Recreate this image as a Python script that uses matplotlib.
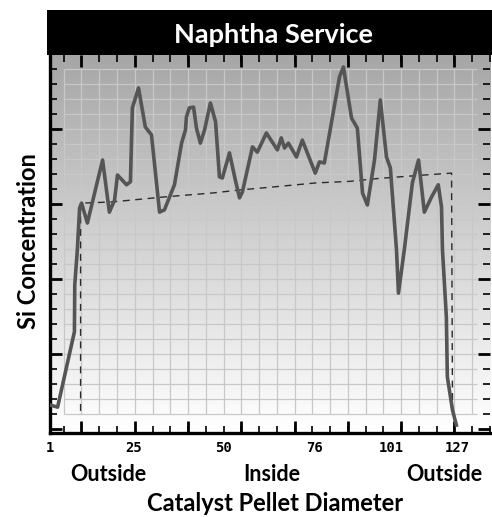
import numpy as np
import matplotlib
matplotlib.use("Agg")
import matplotlib.pyplot as plt
from matplotlib.patches import Rectangle
from matplotlib.transforms import blended_transform_factory

# ---- data ----
solid_x = [1, 3.5, 8.7, 8.8, 9.6, 10.3, 10.9, 12.7, 17.4, 19.5, 21.1, 22.0, 24.8, 26.0,
           26.6, 28.5, 30.6, 32.5, 35.0, 36.5, 39.6, 41.8, 43.0, 43.3, 44.2, 45.5, 46.4,
           47.6, 48.9, 50.7, 52.3, 53.5, 54.4, 56.6, 58.4, 59.7, 60.6, 63.7, 65.2, 68.0,
           71.4, 72.6, 73.6, 74.8, 77.3, 79.1, 83.1, 84.4, 85.9, 90.6, 91.8, 94.3, 96.1,
           97.7, 99.2, 101.4, 103.2, 105.1, 106.3, 108.2, 108.8, 110.6, 113.1, 115.0,
           116.8, 119.0, 121.1, 122.1, 122.4, 123.6, 123.9, 125.5, 126.7]
solid_y = [6.5, 5.9, 26.0, 38.5, 47.8, 59.0, 60.3, 55.0, 71.8, 57.9, 61.1, 67.8, 65.2, 66.0,
           85.7, 91.0, 80.6, 78.5, 57.9, 58.5, 65.2, 76.3, 79.8, 83.3, 85.7, 85.9, 80.3,
           76.3, 79.8, 87.0, 82.0, 67.3, 67.0, 73.7, 66.5, 61.7, 63.3, 75.3, 73.9, 79.0,
           74.5, 77.7, 75.0, 76.3, 72.6, 77.1, 68.3, 71.3, 71.0, 94.0, 96.6, 83.0, 80.3,
           63.0, 59.8, 71.8, 87.8, 72.6, 69.7, 47.8, 36.3, 47.8, 65.7, 71.8,
           57.9, 61.9, 65.2, 59.3, 47.8, 29.9, 14.0, 5.1, 1.1]

dash_x = [10.6, 10.6, 20.1, 37.1, 51.3, 59.7, 69.9, 83.5, 93.7, 102.9, 115.3, 125.2, 125.5]
dash_y = [4.9, 60.3, 60.6, 62.0, 63.0, 63.8, 64.6, 65.7, 66.1, 66.9, 67.7, 68.3, 4.6]

tick_labels = ["1", "25", "50", "76", "101", "127"]
tick_label_pos = [1, 26.9, 54.7, 82.8, 106.6, 127]
region_labels = ["Outside", "Inside", "Outside"]
region_pos = [19.2, 69.6, 123.1]

title = "Naphtha Service"
xlabel = "Catalyst Pellet Diameter"
ylabel = "Si Concentration"

# ---- figure ----
W, H = 492, 517
fig = plt.figure(figsize=(W / 100, H / 100), dpi=100)
ax = fig.add_axes([49.5 / W, 1 - 433 / H, (490 - 49.5) / W, (433 - 55) / H])
ax.set_xlim(1, 136.9)
ax.set_ylim(-1, 99.8)

# gradient background (dark grey at top -> white at bottom)
grad = np.linspace(0.65, 1.0, 256).reshape(-1, 1)
ax.imshow(grad, cmap="gray", vmin=0, vmax=1, aspect="auto", origin="upper",
          extent=[0, 1, 0, 1], transform=ax.transAxes, zorder=0)

# ticks
x_major = 10.88 + 16.46 * np.arange(0, 8)
x_minor = 10.88 + 5.487 * np.arange(-1, 24)
y_major = np.arange(0, 100, 20)
y_minor = np.arange(4, 100, 4)

# grid inside inset rectangle
gx = x_minor[(x_minor > 5) & (x_minor < 133)]
ax.vlines(gx, 4, 96, colors="#c8c8c8", linewidth=0.9, zorder=1)
ax.hlines(y_minor, gx[0], 133.2, colors="#c8c8c8", linewidth=0.9, zorder=1)

ax.plot(dash_x, dash_y, color="#2a2a2a", linewidth=1.0, dashes=(5, 4), zorder=3)
ax.plot(solid_x, solid_y, color="#555555", linewidth=2.6, zorder=4,
        solid_joinstyle="round")

ax.set_xticks(x_major)
ax.set_xticks(x_minor, minor=True)
ax.set_yticks(y_major)
ax.set_yticks(y_minor, minor=True)
ax.tick_params(which="both", direction="in", top=True, right=True,
               labelbottom=False, labelleft=False, color="black")
ax.tick_params(which="major", length=8.5, width=2.0)
ax.tick_params(which="minor", length=5, width=1.2)

for s in ["top", "right"]:
    ax.spines[s].set_visible(False)
for s in ["left", "bottom"]:
    ax.spines[s].set_linewidth(2.4)
    ax.spines[s].set_color("black")

# title bar
fig.patches.append(Rectangle((47 / W, 1 - 55 / H), 1 - 47 / W, 45 / H,
                             transform=fig.transFigure, facecolor="black",
                             edgecolor="none", zorder=5))
fig.text(274 / W, 1 - 43 / H, title, color="white", fontsize=19.5,
         fontweight="bold", family="Lato", ha="center", va="baseline", zorder=6)

trans = blended_transform_factory(ax.transData, ax.transAxes)
for p, t in zip(tick_label_pos, tick_labels):
    ax.text(p, -(452 - 433) / 378, t, transform=trans, ha="center", va="baseline",
            fontsize=10, fontweight="bold", family="DejaVu Sans Mono")
for p, t in zip(region_pos, region_labels):
    ax.text(p, -(481 - 433) / 378, t, transform=trans, ha="center", va="baseline",
            fontsize=15.5, fontweight="bold", family="Lato")

fig.text(275 / W, 1 - 511 / H, xlabel, fontsize=17, fontweight="bold",
         family="Lato", ha="center", va="baseline")
fig.text(28.5 / W, 1 - 241 / H, ylabel, fontsize=17, fontweight="bold",
         family="Lato", ha="center", va="center", rotation=90)

fig.savefig("out.png", dpi=100, facecolor="white")
